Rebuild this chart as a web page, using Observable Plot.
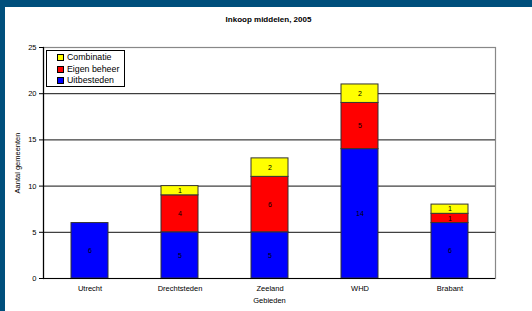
<!DOCTYPE html>
<html>
<head>
<meta charset="utf-8">
<script src="https://cdn.jsdelivr.net/npm/d3@7"></script>
<script src="https://cdn.jsdelivr.net/npm/@observablehq/plot@0.6"></script>
<style>
  html, body { margin: 0; padding: 0; }
  body { width: 532px; height: 311px; background: #004f7c; position: relative; overflow: hidden; font-family: "Liberation Sans", Arial, sans-serif; }
  #panel { position: absolute; left: 5px; top: 7px; width: 527px; height: 304px; background: #fff; }
  #title { position: absolute; left: 0; width: 527px; top: 8px; text-align: center; font-weight: bold; font-size: 8px; color: #000; }
  #chart { position: absolute; left: 0; top: 23px; }
  #legend { position: absolute; left: 41px; top: 43px; width: 79px; height: 37px; border: 1px solid #000; background: #fff; box-sizing: border-box; font-size: 8.8px; color: #000; padding-top: 1px; }
  .item { height: 11.5px; line-height: 11.5px; display: flex; align-items: center; padding-left: 10px; }
  .sw { width: 5px; height: 5px; border: 1px solid #000; margin-right: 3px; }
</style>
</head>
<body>
<div id="panel">
  <div id="title">Inkoop middelen, 2005</div>
  <div id="chart"></div>
  <div id="legend"></div>
</div>
<script>
const categories = ["Utrecht", "Drechtsteden", "Zeeland", "WHD", "Brabant"];
const seriesNames = ["Uitbesteden", "Eigen beheer", "Combinatie"];
const seriesColors = ["#0000ff", "#ff0000", "#ffff00"];
const uitbesteden = [6, 5, 5, 14, 6];
const eigenBeheer = [0, 4, 6, 5, 1];
const combinatie = [0, 1, 2, 2, 1];
const yTicks = [0, 5, 10, 15, 20, 25];
const gridValues = [5, 10, 15, 20];

const seriesValues = [uitbesteden, eigenBeheer, combinatie];
const rows = [];
seriesNames.forEach((s, si) => {
  categories.forEach((c, ci) => {
    const v = seriesValues[si][ci];
    if (v > 0) rows.push({gebied: c, serie: s, value: v});
  });
});

const chart = Plot.plot({
  width: 527,
  height: 281,
  marginLeft: 38,
  marginRight: 37,
  marginTop: 17,
  marginBottom: 33,
  style: {fontFamily: "'Liberation Sans', Arial, sans-serif", fontSize: "7.5px", color: "#000", background: "transparent"},
  x: {domain: categories, paddingInner: 0.59, paddingOuter: 0.295, label: null},
  y: {domain: [0, 25], ticks: yTicks, label: null},
  color: {domain: seriesNames, range: seriesColors},
  marks: [
    Plot.frame({stroke: "#888", strokeWidth: 1.2}),
    Plot.ruleY(gridValues, {stroke: "#111", strokeWidth: 1}),
    Plot.barY(rows, Plot.stackY({x: "gebied", y: "value", fill: "serie", order: seriesNames, stroke: "#333", strokeWidth: 1})),
    Plot.text(rows, Plot.stackY({x: "gebied", y: "value", z: "serie", order: seriesNames, text: "value", fill: "#000", fontSize: 7})),
    Plot.ruleY([0], {stroke: "#000", strokeWidth: 1.2}),
    Plot.frame({anchor: "left", stroke: "#000", strokeWidth: 1.2}),
    Plot.axisY({ticks: yTicks, tickSize: 4, tickPadding: 3, label: "Aantal gemeenten", labelAnchor: "center", labelArrow: "none", labelOffset: 29, fontSize: 7.5}),
    Plot.axisX({tickSize: 0, tickPadding: 7, label: "Gebieden", labelAnchor: "center", labelArrow: "none", labelOffset: 24, fontSize: 7.5})
  ]
});
document.getElementById("chart").appendChild(chart);

const legend = document.getElementById("legend");
[...seriesNames].reverse().forEach((s) => {
  const i = seriesNames.indexOf(s);
  const it = document.createElement("div");
  it.className = "item";
  const sw = document.createElement("span");
  sw.className = "sw";
  sw.style.background = seriesColors[i];
  it.appendChild(sw);
  it.appendChild(document.createTextNode(s));
  legend.appendChild(it);
});
</script>
</body>
</html>
